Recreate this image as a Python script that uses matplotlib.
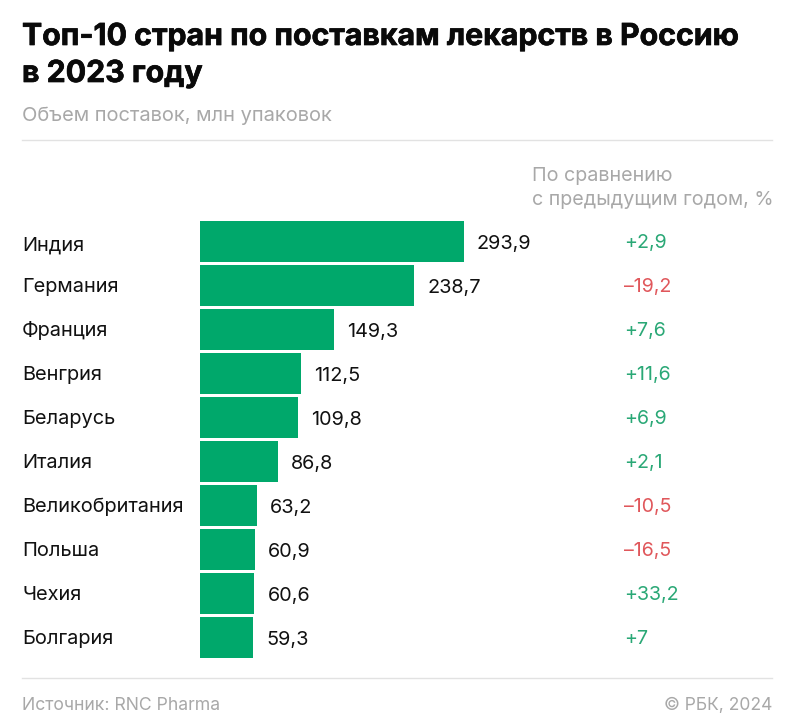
import matplotlib
matplotlib.use("Agg")
import matplotlib.pyplot as plt
import matplotlib.patheffects as pe

countries = ["Индия", "Германия", "Франция", "Венгрия", "Беларусь", "Италия",
             "Великобритания", "Польша", "Чехия", "Болгария"]
volumes = [293.9, 238.7, 149.3, 112.5, 109.8, 86.8, 63.2, 60.9, 60.6, 59.3]
changes = ["+2,9", "–19,2", "+7,6", "+11,6", "+6,9", "+2,1", "–10,5", "–16,5", "+33,2", "+7"]

W, H = 791, 727
GREEN = "#00a86b"
RED = "#e0575b"
POS = "#2aa876"
GREY = "#a8a8a8"
LINE = "#e2e2e2"

plt.rcParams["font.family"] = ["Inter", "Roboto", "DejaVu Sans"]

fig = plt.figure(figsize=(W / 100, H / 100), dpi=100, facecolor="white")

# pixel overlay for everything that is not data
bg = fig.add_axes([0, 0, 1, 1])
bg.set_xlim(0, W)
bg.set_ylim(H, 0)
bg.axis("off")

# bars: 44 px per row, x scale 0.8966 px per unit
ax = fig.add_axes([200 / W, 1 - 659.5 / H, 572 / W, 440 / H])
ax.set_xlim(0, 572 / 0.8966)
ax.set_ylim(9.5, -0.5)
ax.axis("off")
ax.patch.set_alpha(0)

ax.barh(range(len(volumes)), volumes, height=0.93, color=GREEN)

for i, (c, v, d) in enumerate(zip(countries, volumes, changes)):
    ax.annotate(str(v).replace(".", ","), (v, i), xytext=(9.4, -0.5), textcoords="offset points",
                va="center_baseline", fontsize=14.3, color="#111111")
    y = 241 + 44 * i
    bg.text(22, y + (3 if i == 0 else 0), c, va="center_baseline", fontsize=14.4, color="#111111")
    bg.text(624, y, d, va="center_baseline", fontsize=14.1,
            color=RED if d.startswith("–") else POS)

heavy = [pe.withStroke(linewidth=0.5, foreground="#0a0a0a")]
bg.text(22, 45, "Топ-10 стран по поставкам лекарств в Россию", fontsize=21.8,
        fontweight="bold", color="#0a0a0a", path_effects=heavy)
bg.text(22, 82, "в 2023 году", fontsize=21.8, fontweight="bold", color="#0a0a0a", path_effects=heavy)
bg.text(22, 121, "Объем поставок, млн упаковок", fontsize=14.45, color=GREY)
bg.text(532, 181, "По сравнению", fontsize=14.2, color=GREY)
bg.text(532, 205, "с предыдущим годом, %", fontsize=14.2, color=GREY)
bg.text(22, 710, "Источник: RNC Pharma", fontsize=12.7, color=GREY)
bg.text(772, 710, "© РБК, 2024", fontsize=12.6, color=GREY, ha="right")

bg.plot([22, 772], [140, 140], color=LINE, lw=1)
bg.plot([22, 772], [678, 678], color=LINE, lw=1)

fig.savefig("out.png", dpi=100)
